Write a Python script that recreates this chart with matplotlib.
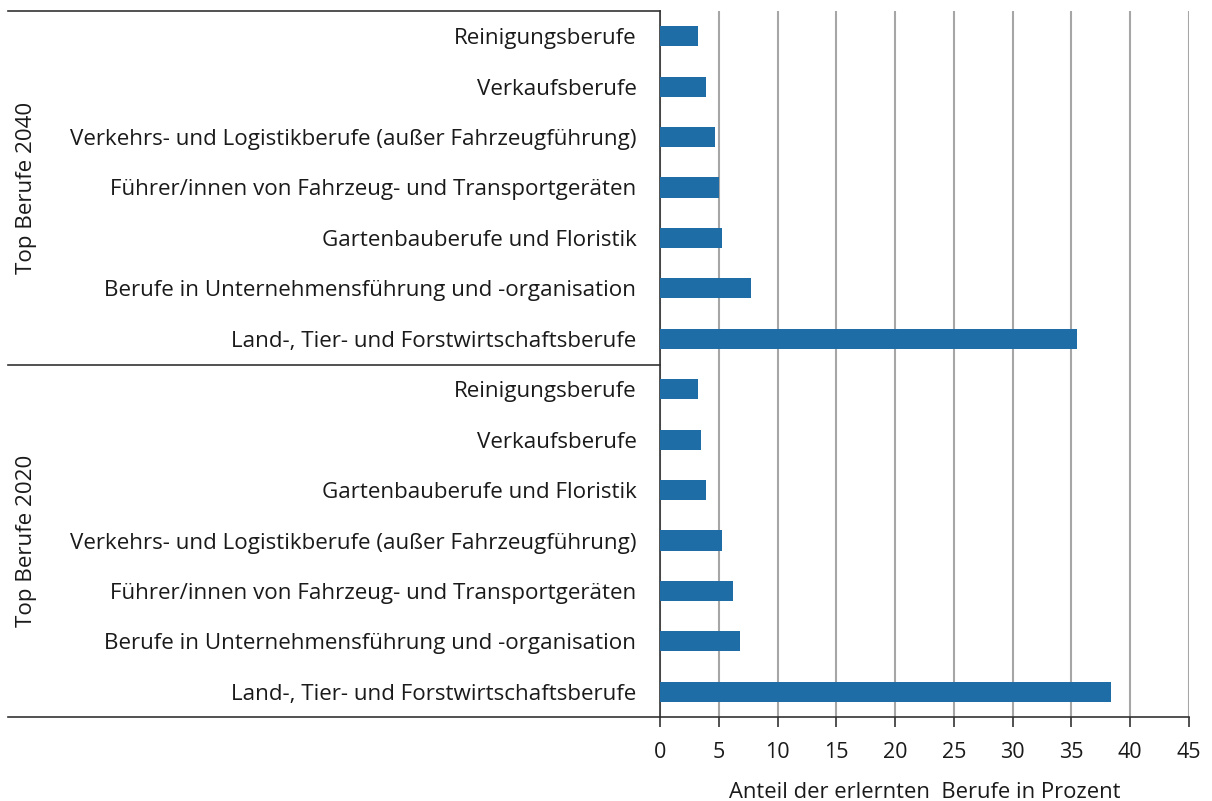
import numpy as np
import matplotlib.pyplot as plt
from matplotlib.lines import Line2D

plt.rcParams['font.family'] = ['Open Sans', 'DejaVu Sans']

# categories top to bottom
berufe_2040 = ["Reinigungsberufe", "Verkaufsberufe",
               "Verkehrs- und Logistikberufe (außer Fahrzeugführung)",
               "Führer/innen von Fahrzeug- und Transportgeräten",
               "Gartenbauberufe und Floristik",
               "Berufe in Unternehmensführung und -organisation",
               "Land-, Tier- und Forstwirtschaftsberufe"]
werte_2040 = [3.2, 3.9, 4.7, 5.0, 5.3, 7.7, 35.5]

berufe_2020 = ["Reinigungsberufe", "Verkaufsberufe",
               "Gartenbauberufe und Floristik",
               "Verkehrs- und Logistikberufe (außer Fahrzeugführung)",
               "Führer/innen von Fahrzeug- und Transportgeräten",
               "Berufe in Unternehmensführung und -organisation",
               "Land-, Tier- und Forstwirtschaftsberufe"]
werte_2020 = [3.2, 3.5, 3.9, 5.3, 6.2, 6.8, 38.4]

gruppen = ["Top Berufe 2040", "Top Berufe 2020"]
xticks = [0, 5, 10, 15, 20, 25, 30, 35, 40, 45]

labels = berufe_2040 + berufe_2020
values = werte_2040 + werte_2020
y = np.arange(len(labels))

fs = 16.1
W, H = 1212, 801
fig = plt.figure(figsize=(W / 100, H / 100), dpi=100)
x0, x1, yb, yt = 660, 1189, 717, 11
ax = fig.add_axes([x0 / W, 1 - yb / H, (x1 - x0) / W, (yb - yt) / H])

ax.barh(y, values, height=0.4, color='#1F6DA6', zorder=3)
ax.set_ylim(len(labels) - 0.5, -0.5)
ax.set_xlim(0, 45)
ax.set_xticks(xticks)
ax.set_yticks(y)
ax.set_yticklabels(labels, fontsize=fs, color='#1a1a1a')
ax.tick_params(axis='y', length=0, pad=17)
ax.tick_params(axis='x', length=7, width=1.2, color='#333333', labelsize=15.5,
               pad=11, labelcolor='#1a1a1a')
ax.xaxis.grid(True, color='#a6a6a6', linewidth=1.5, zorder=0)
for s in ['top', 'right']:
    ax.spines[s].set_visible(False)
ax.spines['left'].set_color('#333333')
ax.spines['left'].set_linewidth(1.2)
ax.spines['bottom'].set_color('#333333')
ax.spines['bottom'].set_linewidth(1.2)
ax.set_xlabel("Anteil der erlernten  Berufe in Prozent", fontsize=15.8,
              color='#1a1a1a', labelpad=14)

# multi-level category frame
def hline(ypix, xa, xb):
    fig.add_artist(Line2D([xa / W, xb / W], [1 - ypix / H, 1 - ypix / H],
                          color='#333333', linewidth=1.2))

hline(yt, 8, x0)
hline(365, 8, x0)
hline(yb, 8, x0)

fig.text(27 / W, 1 - 188 / H, gruppen[0], rotation=90, ha='center',
         va='center', fontsize=fs, color='#1a1a1a')
fig.text(27 / W, 1 - 541 / H, gruppen[1], rotation=90, ha='center',
         va='center', fontsize=fs, color='#1a1a1a')

plt.savefig("out.png", dpi=100)
